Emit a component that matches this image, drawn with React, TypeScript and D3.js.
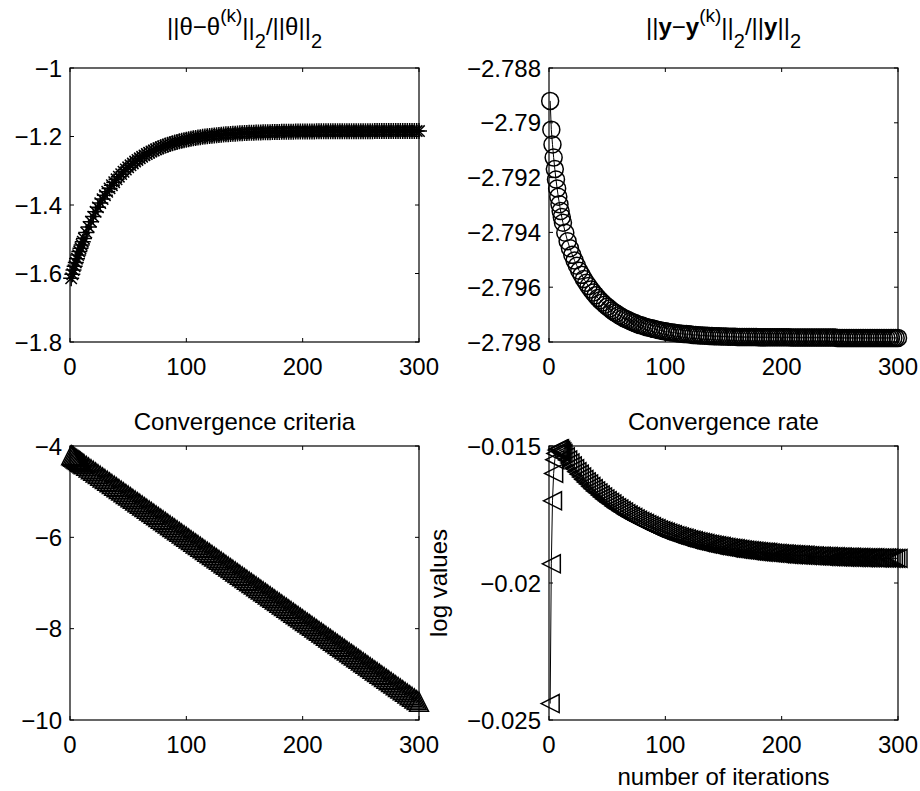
import React from "react";
import * as d3 from "d3";

// iteration numbers of the plotted samples (every iteration at first, then every second one)
const iterations = [
  1, 2, 3, 4, 5, 6, 7, 8, 9, 10, 11, 12,
  14, 16, 18, 20, 22, 24, 26, 28, 30, 32, 34, 36, 38, 40, 42, 44, 46, 48, 50, 52, 54, 56, 58, 60,
  62, 64, 66, 68, 70, 72, 74, 76, 78, 80, 82, 84, 86, 88, 90, 92, 94, 96, 98, 100, 102, 104, 106, 108,
  110, 112, 114, 116, 118, 120, 122, 124, 126, 128, 130, 132, 134, 136, 138, 140, 142, 144, 146, 148, 150,
  152, 154, 156, 158, 160, 162, 164, 166, 168, 170, 172, 174, 176, 178, 180, 182, 184, 186, 188, 190, 192,
  194, 196, 198, 200, 202, 204, 206, 208, 210, 212, 214, 216, 218, 220, 222, 224, 226, 228, 230, 232, 234,
  236, 238, 240, 242, 244, 246, 248, 250, 252, 254, 256, 258, 260, 262, 264, 266, 268, 270, 272, 274, 276,
  278, 280, 282, 284, 286, 288, 290, 292, 294, 296, 298, 300,
];

const thetaError = [
  -1.614, -1.6019, -1.5901, -1.5787, -1.5676, -1.5568, -1.5463, -1.536, -1.5261, -1.5165, -1.5071, -1.498,
  -1.4806, -1.4641, -1.4486, -1.4339, -1.42, -1.4069, -1.3945, -1.3828, -1.3718, -1.3613, -1.3515, -1.3422,
  -1.3334, -1.3251, -1.3173, -1.3099, -1.3029, -1.2963, -1.29, -1.2841, -1.2786, -1.2733, -1.2684, -1.2637,
  -1.2593, -1.2551, -1.2511, -1.2474, -1.2439, -1.2406, -1.2374, -1.2344, -1.2316, -1.229, -1.2265, -1.2241,
  -1.2219, -1.2198, -1.2178, -1.2159, -1.2142, -1.2125, -1.2109, -1.2094, -1.208, -1.2067, -1.2054, -1.2042,
  -1.2031, -1.202, -1.201, -1.2001, -1.1992, -1.1984, -1.1976, -1.1968, -1.1961, -1.1954, -1.1948, -1.1942,
  -1.1936, -1.1931, -1.1926, -1.1921, -1.1917, -1.1912, -1.1908, -1.1904, -1.1901, -1.1898, -1.1894, -1.1891,
  -1.1888, -1.1886, -1.1883, -1.1881, -1.1879, -1.1876, -1.1874, -1.1873, -1.1871, -1.1869, -1.1867, -1.1866,
  -1.1864, -1.1863, -1.1862, -1.1861, -1.1859, -1.1858, -1.1857, -1.1856, -1.1855, -1.1855, -1.1854, -1.1853,
  -1.1852, -1.1852, -1.1851, -1.185, -1.185, -1.1849, -1.1849, -1.1848, -1.1848, -1.1847, -1.1847, -1.1847,
  -1.1846, -1.1846, -1.1845, -1.1845, -1.1845, -1.1845, -1.1844, -1.1844, -1.1844, -1.1844, -1.1844, -1.1844,
  -1.1844, -1.1844, -1.1844, -1.1844, -1.1843, -1.1843, -1.1843, -1.1843, -1.1843, -1.1843, -1.1843, -1.1843,
  -1.1843, -1.1843, -1.1843, -1.1843, -1.1842, -1.1842, -1.1842, -1.1842, -1.1842, -1.1842, -1.1842, -1.1842,
];

const outputError = [
  -2.7892, -2.79025, -2.79079, -2.79127, -2.79169, -2.79207, -2.7924, -2.7927, -2.79297, -2.79322, -2.79344,
  -2.79365, -2.79401, -2.79432, -2.79458, -2.79482, -2.79503, -2.79522, -2.7954, -2.79555, -2.7957, -2.79584,
  -2.79596, -2.79608, -2.79619, -2.79629, -2.79639, -2.79648, -2.79656, -2.79664, -2.79671, -2.79678, -2.79685,
  -2.79691, -2.79696, -2.79702, -2.79707, -2.79712, -2.79716, -2.7972, -2.79724, -2.79728, -2.79731, -2.79735,
  -2.79738, -2.7974, -2.79743, -2.79746, -2.79748, -2.7975, -2.79752, -2.79754, -2.79756, -2.79758, -2.7976,
  -2.79761, -2.79763, -2.79764, -2.79765, -2.79766, -2.79768, -2.79769, -2.7977, -2.79771, -2.79771, -2.79772,
  -2.79773, -2.79774, -2.79774, -2.79775, -2.79776, -2.79776, -2.79777, -2.79777, -2.79778, -2.79778, -2.79779,
  -2.79779, -2.79779, -2.7978, -2.7978, -2.7978, -2.79781, -2.79781, -2.79781, -2.79781, -2.79782, -2.79782,
  -2.79782, -2.79782, -2.79782, -2.79782, -2.79782, -2.79782, -2.79782, -2.79783, -2.79783, -2.79783, -2.79783,
  -2.79783, -2.79783, -2.79783, -2.79783, -2.79783, -2.79783, -2.79783, -2.79783, -2.79783, -2.79783, -2.79784,
  -2.79784, -2.79784, -2.79784, -2.79784, -2.79784, -2.79784, -2.79784, -2.79784, -2.79784, -2.79784, -2.79784,
  -2.79784, -2.79784, -2.79784, -2.79784, -2.79784, -2.79784, -2.79784, -2.79784, -2.79785, -2.79785, -2.79785,
  -2.79785, -2.79785, -2.79785, -2.79785, -2.79785, -2.79785, -2.79785, -2.79785, -2.79785, -2.79785, -2.79785,
  -2.79785, -2.79785, -2.79785, -2.79785, -2.79785, -2.79785, -2.79785, -2.79785, -2.79785, -2.79785, -2.79785,
  -2.79785, -2.79785,
];

const criteria = [
  -4.2, -4.2181, -4.2361, -4.2542, -4.2722, -4.2903, -4.3084, -4.3264, -4.3445, -4.3625, -4.3806, -4.3987,
  -4.4348, -4.4709, -4.507, -4.5431, -4.5793, -4.6154, -4.6515, -4.6876, -4.7237, -4.7599, -4.796, -4.8321,
  -4.8682, -4.9043, -4.9405, -4.9766, -5.0127, -5.0488, -5.0849, -5.1211, -5.1572, -5.1933, -5.2294, -5.2655,
  -5.3017, -5.3378, -5.3739, -5.41, -5.4461, -5.4823, -5.5184, -5.5545, -5.5906, -5.6267, -5.6629, -5.699,
  -5.7351, -5.7712, -5.8073, -5.8435, -5.8796, -5.9157, -5.9518, -5.9879, -6.0241, -6.0602, -6.0963, -6.1324,
  -6.1685, -6.2047, -6.2408, -6.2769, -6.313, -6.3491, -6.3853, -6.4214, -6.4575, -6.4936, -6.5297, -6.5659,
  -6.602, -6.6381, -6.6742, -6.7103, -6.7465, -6.7826, -6.8187, -6.8548, -6.8909, -6.9271, -6.9632, -6.9993,
  -7.0354, -7.0715, -7.1077, -7.1438, -7.1799, -7.216, -7.2521, -7.2883, -7.3244, -7.3605, -7.3966, -7.4327,
  -7.4689, -7.505, -7.5411, -7.5772, -7.6133, -7.6495, -7.6856, -7.7217, -7.7578, -7.7939, -7.8301, -7.8662,
  -7.9023, -7.9384, -7.9745, -8.0107, -8.0468, -8.0829, -8.119, -8.1551, -8.1913, -8.2274, -8.2635, -8.2996,
  -8.3357, -8.3719, -8.408, -8.4441, -8.4802, -8.5163, -8.5525, -8.5886, -8.6247, -8.6608, -8.6969, -8.7331,
  -8.7692, -8.8053, -8.8414, -8.8775, -8.9137, -8.9498, -8.9859, -9.022, -9.0581, -9.0943, -9.1304, -9.1665,
  -9.2026, -9.2387, -9.2749, -9.311, -9.3471, -9.3832, -9.4193, -9.4555, -9.4916, -9.5277, -9.5638, -9.6,
];

const rate = [
  -0.0244, -0.0193, -0.017, -0.016, -0.0155, -0.01527, -0.01515, -0.01511, -0.0151, -0.01516, -0.01522, -0.01528,
  -0.0154, -0.01551, -0.01562, -0.01573, -0.01583, -0.01594, -0.01603, -0.01613, -0.01622, -0.01631, -0.01639,
  -0.01648, -0.01656, -0.01664, -0.01671, -0.01679, -0.01686, -0.01693, -0.017, -0.01706, -0.01712, -0.01719,
  -0.01725, -0.0173, -0.01736, -0.01741, -0.01747, -0.01752, -0.01757, -0.01761, -0.01766, -0.01771, -0.01775,
  -0.01779, -0.01783, -0.01787, -0.01791, -0.01795, -0.01799, -0.01802, -0.01806, -0.01809, -0.01812, -0.01815,
  -0.01818, -0.01821, -0.01824, -0.01827, -0.01829, -0.01832, -0.01835, -0.01837, -0.01839, -0.01842, -0.01844,
  -0.01846, -0.01848, -0.0185, -0.01852, -0.01854, -0.01856, -0.01858, -0.01859, -0.01861, -0.01863, -0.01864,
  -0.01866, -0.01867, -0.01869, -0.0187, -0.01872, -0.01873, -0.01874, -0.01875, -0.01877, -0.01878, -0.01879,
  -0.0188, -0.01881, -0.01882, -0.01883, -0.01884, -0.01885, -0.01886, -0.01887, -0.01888, -0.01888, -0.01889,
  -0.0189, -0.01891, -0.01892, -0.01892, -0.01893, -0.01894, -0.01894, -0.01895, -0.01896, -0.01896, -0.01897,
  -0.01897, -0.01898, -0.01898, -0.01899, -0.01899, -0.019, -0.019, -0.01901, -0.01901, -0.01902, -0.01902,
  -0.01902, -0.01903, -0.01903, -0.01903, -0.01904, -0.01904, -0.01904, -0.01905, -0.01905, -0.01905, -0.01906,
  -0.01906, -0.01906, -0.01906, -0.01907, -0.01907, -0.01907, -0.01907, -0.01908, -0.01908, -0.01908, -0.01908,
  -0.01908, -0.01908, -0.01909, -0.01909, -0.01909, -0.01909, -0.01909, -0.01909, -0.0191, -0.0191, -0.0191,
  -0.0191,
];

const xTicks = [0, 100, 200, 300];
const thetaTicks = [-1, -1.2, -1.4, -1.6, -1.8];
const outputTicks = [-2.788, -2.79, -2.792, -2.794, -2.796, -2.798];
const criteriaTicks = [-4, -6, -8, -10];
const rateTicks = [-0.015, -0.02, -0.025];

const FONT = "'Liberation Sans', Arial, Helvetica, sans-serif";
const fmt = (v: number) => String(v).replace("-", "\u2212");

const markers: Record<string, string> = {
  star: "M-8,0H8M0,-8V8M-5.7,-5.7L5.7,5.7M-5.7,5.7L5.7,-5.7",
  circle: "M8.5,0A8.5,8.5 0 1,1 -8.5,0A8.5,8.5 0 1,1 8.5,0Z",
  triUp: "M0,-9.5L9.5,9.5L-9.5,9.5Z",
  triLeft: "M-9,0L9,-9L9,9Z",
};

type PanelProps = {
  x0: number; x1: number; y0: number; y1: number;
  yDomain: [number, number]; yTicks: number[];
  values: number[]; marker: string;
  title: React.ReactNode; titleY: number;
};

const Panel = ({ x0, x1, y0, y1, yDomain, yTicks, values, marker, title, titleY }: PanelProps) => {
  const x = d3.scaleLinear().domain([0, 300]).range([x0, x1]);
  const y = d3.scaleLinear().domain(yDomain).range([y0, y1]);
  const pts = iterations.map((k, i) => [x(k), y(values[i])] as [number, number]);
  const line = d3.line()(pts);
  const tl = 4;
  return (
    <g>
      <text x={(x0 + x1) / 2} y={titleY} textAnchor="middle" fontSize={24}>{title}</text>
      <rect x={x0} y={y0} width={x1 - x0} height={y1 - y0} fill="none" stroke="#000" strokeWidth={1.2} />
      {xTicks.map((t) => (
        <g key={"x" + t}>
          <line x1={x(t)} x2={x(t)} y1={y1} y2={y1 - tl} stroke="#000" />
          <line x1={x(t)} x2={x(t)} y1={y0} y2={y0 + tl} stroke="#000" />
          <text x={x(t)} y={y1 + 33} textAnchor="middle" fontSize={24}>{t}</text>
        </g>
      ))}
      {yTicks.map((t) => (
        <g key={"y" + t}>
          <line x1={x0} x2={x0 + tl} y1={y(t)} y2={y(t)} stroke="#000" />
          <line x1={x1} x2={x1 - tl} y1={y(t)} y2={y(t)} stroke="#000" />
          <text x={x0 - 8} y={y(t)} dy="0.36em" textAnchor="end" fontSize={24}>{fmt(t)}</text>
        </g>
      ))}
      <path d={line ?? ""} fill="none" stroke="#000" strokeWidth={1} />
      {pts.map(([px, py], i) => (
        <path key={i} d={markers[marker]} transform={`translate(${px},${py})`} fill="none" stroke="#000" strokeWidth={1.5} />
      ))}
    </g>
  );
};

const thetaTitle = (
  <>
    <tspan>||θ−θ</tspan>
    <tspan fontSize={19} dy={-13}>(k)</tspan>
    <tspan dy={13}>||</tspan>
    <tspan fontSize={20} dy={13}>2</tspan>
    <tspan dy={-13}>/||θ||</tspan>
    <tspan fontSize={20} dy={13}>2</tspan>
  </>
);

const outputTitle = (
  <>
    <tspan>||</tspan>
    <tspan fontWeight="bold">y</tspan>
    <tspan>−</tspan>
    <tspan fontWeight="bold">y</tspan>
    <tspan fontSize={19} dy={-13}>(k)</tspan>
    <tspan dy={13}>||</tspan>
    <tspan fontSize={20} dy={13}>2</tspan>
    <tspan dy={-13}>/||</tspan>
    <tspan fontWeight="bold">y</tspan>
    <tspan>||</tspan>
    <tspan fontSize={20} dy={13}>2</tspan>
  </>
);

export default function App() {
  return (
    <svg width={920} height={791} style={{ position: "absolute", left: 0, top: 0, background: "#fff" }} fontFamily={FONT}>
      <rect width={920} height={791} fill="#fff" />
      <Panel x0={70} x1={419} y0={68} y1={342} yDomain={[-1, -1.8]} yTicks={thetaTicks}
        values={thetaError} marker="star" title={thetaTitle} titleY={35} />
      <Panel x0={549} x1={898} y0={68} y1={342} yDomain={[-2.788, -2.798]} yTicks={outputTicks}
        values={outputError} marker="circle" title={outputTitle} titleY={35} />
      <Panel x0={70} x1={419} y0={446} y1={720} yDomain={[-4, -10]} yTicks={criteriaTicks}
        values={criteria} marker="triUp" title="Convergence criteria" titleY={430} />
      <Panel x0={549} x1={898} y0={446} y1={720} yDomain={[-0.015, -0.025]} yTicks={rateTicks}
        values={rate} marker="triLeft" title="Convergence rate" titleY={430} />
      <text x={723.5} y={785} textAnchor="middle" fontSize={24}>number of iterations</text>
      <text transform="translate(447,583) rotate(-90)" textAnchor="middle" fontSize={24}>log values</text>
    </svg>
  );
}
